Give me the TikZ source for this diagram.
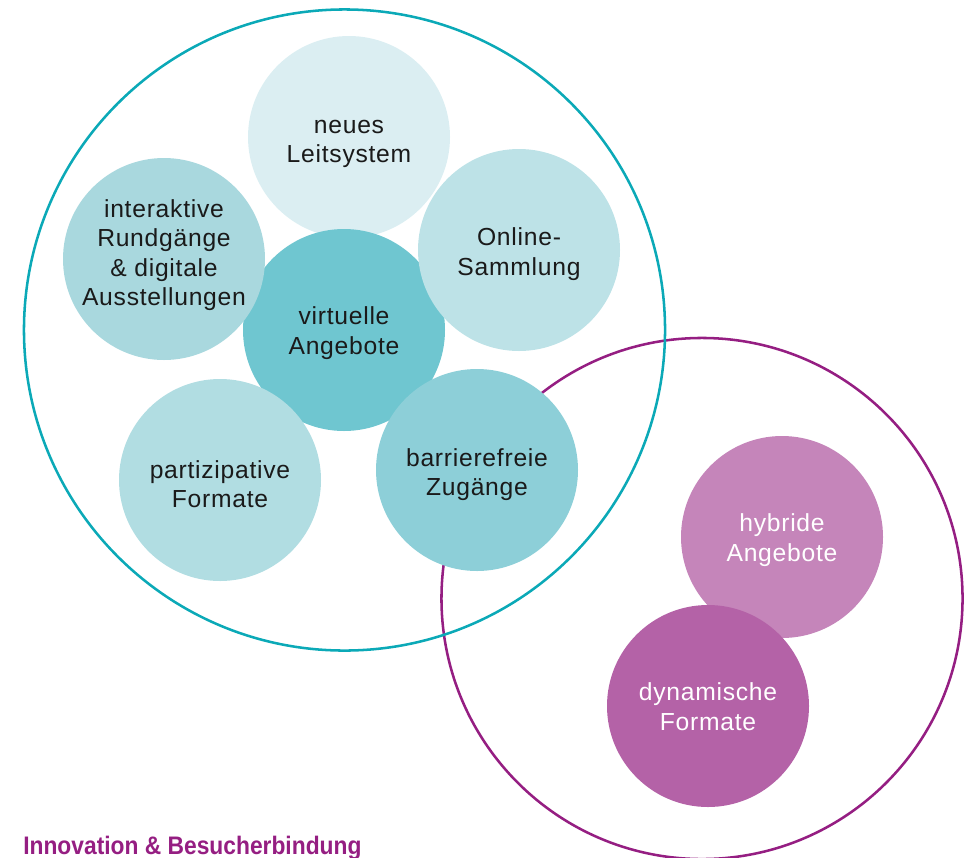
\documentclass[tikz,border=0pt]{standalone}
\usepackage{fontspec}
\setmainfont{Liberation Sans}[LetterSpace=3]
\newfontfamily\titlefont{Liberation Sans}[FakeStretch=0.9]
\definecolor{cLeit}{HTML}{DBEEF2}
\definecolor{cOnl}{HTML}{BDE2E7}
\definecolor{cInt}{HTML}{A9D8DE}
\definecolor{cVirt}{HTML}{6FC6D0}
\definecolor{cPart}{HTML}{B1DDE2}
\definecolor{cBarr}{HTML}{8DCFD8}
\definecolor{cHyb}{HTML}{C585BA}
\definecolor{cDyn}{HTML}{B462A7}
\definecolor{cTeal}{HTML}{0BA9B7}
\definecolor{cPurp}{HTML}{951E82}
\definecolor{cText}{HTML}{1A1A1A}
\begin{document}
\begin{tikzpicture}[x=0.75pt,y=-0.75pt,
  bubble/.style={circle,draw=none,inner sep=0pt,minimum size=151.5pt},
  txt/.style={inner sep=0pt,align=center,text=cText,font=\fontsize{18.5pt}{22pt}\selectfont},
  ring/.style={draw,line width=1.9pt,fill=none,inner sep=0pt}]
\useasboundingbox (0,0) rectangle (969,857);
% outer rings
\node[ring,draw=cPurp,circle,minimum size=390.8pt] (purple) at (702,598.5) {};
\node[ring,draw=cTeal,circle,minimum size=480.8pt] (teal) at (344.5,330) {};
% bubbles
\node[bubble,fill=cLeit] (leit) at (349,137) {};
\node[bubble,fill=cVirt] (virt) at (344,330) {};
\node[bubble,fill=cInt] (inter) at (164,259) {};
\node[bubble,fill=cOnl] (onl) at (519,250) {};
\node[bubble,fill=cPart] (part) at (220,480) {};
\node[bubble,fill=cBarr] (barr) at (477,470) {};
\node[bubble,fill=cHyb] (hyb) at (782,537) {};
\node[bubble,fill=cDyn] (dyn) at (708,706) {};
% labels
\node[txt] (tleit) at ([yshift=-5pt]leit.center) {neues\\Leitsystem};
\node[txt] (tvirt) at ([yshift=-2.3pt]virt.center) {virtuelle\\Angebote};
\node[txt] (tinter) at ([yshift=3pt]inter.center) {interaktive\\Rundgänge\\\& digitale\\Ausstellungen};
\node[txt] (tonl) at ([yshift=-3pt]onl.center) {Online-\\Sammlung};
\node[txt] (tpart) at ([yshift=-3pt]part.center) {partizipative\\Formate};
\node[txt] (tbarr) at ([yshift=-3.5pt]barr.center) {barrierefreie\\Zugänge};
\node[txt,text=white] (thyb) at ([yshift=-2.3pt]hyb.center) {hybride\\Angebote};
\node[txt,text=white] (tdyn) at ([yshift=-0.6pt]dyn.center) {dynamische\\Formate};
% title
\node[anchor=base west,inner sep=0pt,text=cPurp,font=\titlefont\bfseries\fontsize{19pt}{21pt}\selectfont] (title) at (23,854.5) {Innovation \& Besucherbindung};
\end{tikzpicture}
\end{document}
